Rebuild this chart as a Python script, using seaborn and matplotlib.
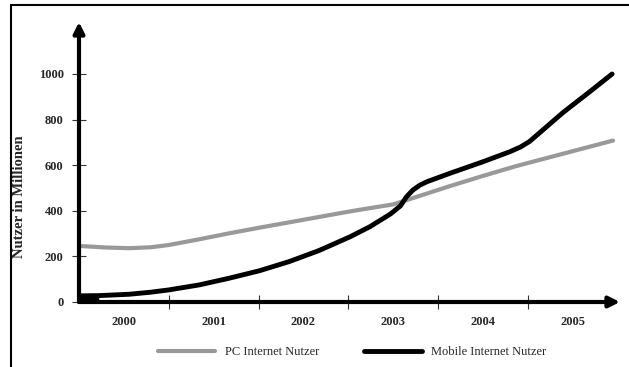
import matplotlib
matplotlib.use("Agg")
import matplotlib.pyplot as plt
from matplotlib.lines import Line2D
import seaborn as sns
import pandas as pd

# Year categories on the x axis
years = [2000, 2001, 2002, 2003, 2004, 2005]

# PC internet users (millions), sampled along the time axis
pc_t = [1999.50, 1999.80, 2000.06, 2000.30, 2000.50, 2000.84, 2001.17, 2001.51,
        2001.95, 2002.40, 2002.62, 2003.00, 2003.30, 2003.63, 2004.00, 2004.38,
        2004.90, 2005.45]
pc_users = [246, 239, 236, 240, 250, 275, 301, 326, 357, 389, 404, 428, 466,
            508, 553, 597, 651, 708]

# Mobile internet users (millions)
mob_t = [1999.50, 1999.72, 2000.06, 2000.30, 2000.50, 2000.84, 2001.17, 2001.51,
         2001.84, 2002.17, 2002.40, 2002.52, 2002.74, 2002.97, 2003.08, 2003.15,
         2003.22, 2003.30, 2003.38, 2003.63, 2004.00, 2004.30, 2004.42, 2004.52,
         2004.62, 2004.89, 2005.19, 2005.44]
mob_users = [27, 28, 34, 43, 53, 75, 104, 137, 177, 225, 265, 286, 330, 386,
             421, 462, 491, 513, 528, 564, 615, 659, 680, 704, 738, 830, 922,
             1000]

yticks = [0, 200, 400, 600, 800, 1000]

sns.set_theme(style="white")
plt.rcParams["font.family"] = ["Liberation Serif", "DejaVu Serif"]

fig = plt.figure(figsize=(6.29, 3.67), dpi=100)
ax = fig.add_axes([79 / 629, 1 - 302 / 367, 541 / 629, 280 / 367])

pc_df = pd.DataFrame({"Jahr": pc_t, "Nutzer": pc_users})
mob_df = pd.DataFrame({"Jahr": mob_t, "Nutzer": mob_users})

gray = "#999999"
sns.lineplot(data=pc_df, x="Jahr", y="Nutzer", color=gray, lw=3.0, ax=ax,
             label="PC Internet Nutzer", zorder=3)
sns.lineplot(data=mob_df, x="Jahr", y="Nutzer", color="black", lw=3.5, ax=ax,
             label="Mobile Internet Nutzer", zorder=4)
# heavy start block of the mobile series at the origin
ax.fill_between(mob_t[:2], 0, mob_users[:2], color="black", lw=0, zorder=4)

ax.set_xlim(1999.5, 1999.5 + 541 / 89.75)
ax.set_ylim(0, 280 / 0.228)

for s in ax.spines.values():
    s.set_visible(False)

# axis arrows
arrow = dict(arrowstyle="-|>", lw=3, color="black", mutation_scale=16,
             shrinkA=0, shrinkB=0)
ax.annotate("", xy=(1, 0), xytext=(0, 0), xycoords="axes fraction",
            arrowprops=arrow, zorder=5)
ax.annotate("", xy=(0, 1), xytext=(0, 0), xycoords="axes fraction",
            arrowprops=arrow, zorder=5)

# ticks: labels at category centres, marks at category boundaries
ax.set_xticks(years)
ax.set_xticklabels([str(y) for y in years], fontweight="bold", fontsize=9)
ax.set_xticks([y + 0.5 for y in years[:-1]], minor=True)
ax.tick_params(axis="x", which="major", length=0, pad=10)
ax.tick_params(axis="x", which="minor", direction="inout", length=10,
               width=0.8, color="#333333", bottom=True)
ax.set_yticks(yticks)
ax.set_yticklabels([str(v) for v in yticks], fontweight="bold", fontsize=9)
ax.tick_params(axis="y", which="major", direction="inout", length=10,
               width=0.8, color="#333333", pad=6, left=True)

ax.set_xlabel("")
ax.set_ylabel("Nutzer in Millionen", fontweight="bold", fontsize=10.5)
ax.yaxis.set_label_coords((26 - 79) / 541, (302 - 197) / 280)

handles, labels = ax.get_legend_handles_labels()
ax.get_legend().remove()
fig.legend(handles, labels, loc="center", bbox_to_anchor=(352 / 629, 1 - 352 / 367),
           ncol=2, frameon=False, fontsize=9, handlelength=4.6,
           handletextpad=0.75, columnspacing=3.6)

# outer frame (left and top edges)
fig.add_artist(Line2D([10.5 / 629, 10.5 / 629], [0, 1 - 4.5 / 367],
                      transform=fig.transFigure, color="black", lw=1.5))
fig.add_artist(Line2D([10.5 / 629, 1], [1 - 4.5 / 367, 1 - 4.5 / 367],
                      transform=fig.transFigure, color="black", lw=1.5))

fig.savefig("out.png", dpi=100, facecolor="white")
